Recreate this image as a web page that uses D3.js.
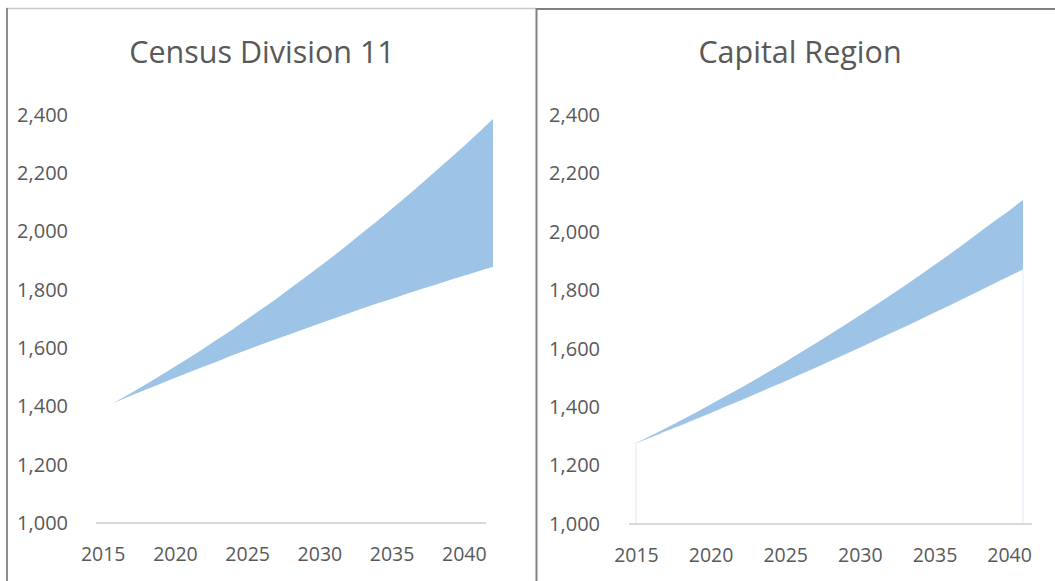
<!DOCTYPE html>
<html><head><meta charset="utf-8">
<script src="https://cdn.jsdelivr.net/npm/d3@7"></script>
<style>
html,body{margin:0;padding:0;background:#fff;}
svg{display:block;}
text{font-family:"Open Sans","Noto Sans",sans-serif;fill:#595959;}
</style></head><body>
<svg id="c" width="1055" height="581"></svg>
<script>
const years = [2015,2016,2017,2018,2019,2020,2021,2022,2023,2024,2025,2026,2027,2028,2029,2030,2031,2032,2033,2034,2035,2036,2037,2038,2039,2040,2041];
const tickYears = [2015,2020,2025,2030,2035,2040];
const yTicks = [1000,1200,1400,1600,1800,2000,2200,2400];
const titles = ["Census Division 11","Capital Region"];

const cdLow  = [1411,1432,1453,1473,1493,1513,1533,1552,1572,1591,1610,1628,1646,1664,1682,1700,1717,1735,1752,1768,1785,1801,1817,1833,1848,1864,1879];
const cdHigh = [1411,1439,1468,1498,1529,1560,1592,1625,1658,1693,1728,1763,1800,1837,1875,1913,1952,1993,2033,2075,2117,2160,2204,2248,2293,2339,2386];
const crLow  = [1277,1297,1318,1338,1359,1380,1402,1423,1445,1467,1489,1512,1534,1557,1580,1603,1627,1651,1674,1698,1723,1747,1772,1797,1822,1847,1872];
const crHigh = [1277,1302,1328,1354,1381,1409,1437,1465,1494,1524,1554,1585,1616,1648,1680,1713,1746,1780,1814,1849,1885,1921,1958,1996,2034,2070,2109];

const svg = d3.select("#c");

// frame
svg.append("line").attr("x1",6).attr("x2",536).attr("y1",8.5).attr("y2",8.5).attr("stroke","#c8c8c8").attr("stroke-width",1.5);
svg.append("line").attr("x1",7).attr("x2",7).attr("y1",8).attr("y2",581).attr("stroke","#8c8c8c").attr("stroke-width",2);
svg.append("line").attr("x1",536).attr("x2",1055).attr("y1",9).attr("y2",9).attr("stroke","#808080").attr("stroke-width",2);
svg.append("line").attr("x1",536.5).attr("x2",536.5).attr("y1",8).attr("y2",581).attr("stroke","#808080").attr("stroke-width",2);

const panels = [
  {title:titles[0], low:cdLow, high:cdHigh, titleX:262, axis:[96,486], data:[113,493], y:[523,115], labelX:68, edge:false},
  {title:titles[1], low:crLow, high:crHigh, titleX:800, axis:[629,1032], data:[636,1023], y:[524,115], labelX:600, edge:true}
];

panels.forEach(p => {
  const g = svg.append("g");
  const y = d3.scaleLinear().domain([1000,2400]).range(p.y);
  const xb = d3.scaleBand().domain(years).range(p.axis);
  const xp = d3.scalePoint().domain(years).range(p.data);

  g.append("text").attr("x",p.titleX).attr("y",63).attr("text-anchor","middle")
    .style("font-size","30.5px").text(p.title);

  // y labels
  const ya = d3.axisLeft(y).tickValues(yTicks).tickSize(0).tickPadding(0).tickFormat(d3.format(","));
  const yg = g.append("g").attr("transform",`translate(${p.labelX},0)`).call(ya);
  yg.select(".domain").remove();
  yg.selectAll("text").style("font-size","20px").style("font-family",'"Open Sans",sans-serif').attr("fill","#595959");

  // areas
  const idx = d3.range(years.length);
  if (p.edge) {
    const lowArea = d3.area().x(i=>xp(years[i])).y0(y(1000)).y1(i=>y(p.low[i]));
    g.append("path").datum(idx).attr("d",lowArea).attr("fill","none").attr("stroke","#deebf7").attr("stroke-width",1);
  }
  const band = d3.area().x(i=>xp(years[i])).y0(i=>y(p.low[i])).y1(i=>y(p.high[i]));
  g.append("path").datum(idx).attr("d",band).attr("fill","#9dc3e6");

  // x axis
  const xa = d3.axisBottom(xb).tickValues(tickYears).tickSize(0).tickPadding(0);
  const xg = g.append("g").attr("transform",`translate(0,${y(1000)})`).call(xa);
  xg.select(".domain").attr("stroke","#d9d9d9").attr("stroke-width",2).attr("d",`M${p.axis[0]},0H${p.axis[1]}`);
  xg.selectAll("text").style("font-size","19.5px").style("font-family",'"Open Sans",sans-serif').attr("fill","#595959").attr("y",24);
});
</script>
</body></html>
